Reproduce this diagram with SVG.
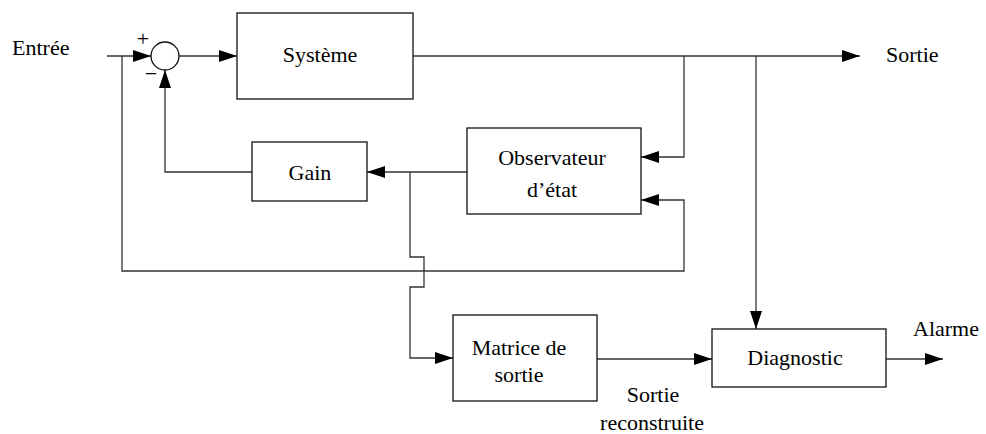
<svg xmlns="http://www.w3.org/2000/svg" width="986" height="434" viewBox="0 0 986 434">
<defs>
<style>
.box{fill:#fff;stroke:#111;stroke-width:1.3}
.ln{fill:none;stroke:#333;stroke-width:1.3}
.t{font-family:"Liberation Serif","Times New Roman",serif;font-size:22px;fill:#000}
.c{text-anchor:middle}
</style>
<marker id="ah" markerUnits="userSpaceOnUse" markerWidth="18" markerHeight="12" refX="18" refY="6" orient="auto" viewBox="0 0 18 12">
<path d="M0,0 L18,6 L0,12 z" fill="#000"/>
</marker>
</defs>
<rect width="986" height="434" fill="#fff"/>
<g id="connectors">
<path class="ln" d="M107,56 H151" marker-end="url(#ah)"/>
<path class="ln" d="M122,56 V271 H684 V200 H641" marker-end="url(#ah)"/>
<path class="ln" d="M179,56 H237" marker-end="url(#ah)"/>
<path class="ln" d="M413,56 H860" marker-end="url(#ah)"/>
<path class="ln" d="M684,56 V157 H641" marker-end="url(#ah)"/>
<path class="ln" d="M756,56 V329" marker-end="url(#ah)"/>
<path class="ln" d="M467,172 H367" marker-end="url(#ah)"/>
<path class="ln" d="M252,172 H165 V70" marker-end="url(#ah)"/>
<path class="ln" d="M410,172 V257 H424 V287 H410 V358 H453" marker-end="url(#ah)"/>
<path class="ln" d="M597,359 H712" marker-end="url(#ah)"/>
<path class="ln" d="M886,359 H943" marker-end="url(#ah)"/>
</g>
<g id="sum">
<circle cx="165" cy="56" r="14" fill="#fff" stroke="#111" stroke-width="1.3"/>
<text class="t c" x="143" y="46">+</text>
<text class="t c" x="151" y="81">−</text>
</g>
<g id="entree"><text class="t" x="12" y="55">Entrée</text></g>
<g id="sortie"><text class="t" x="886" y="62">Sortie</text></g>
<g id="systeme">
<rect class="box" x="237" y="13" width="176" height="86"/>
<text class="t c" x="320" y="62">Système</text>
</g>
<g id="observateur">
<rect class="box" x="467" y="128" width="174" height="86"/>
<text class="t c" x="552" y="165">Observateur</text>
<text class="t c" x="552" y="197">d’état</text>
</g>
<g id="gain">
<rect class="box" x="252" y="142" width="115" height="59"/>
<text class="t c" x="310" y="180">Gain</text>
</g>
<g id="matrice">
<rect class="box" x="453" y="315" width="144" height="86"/>
<text class="t c" x="519" y="355">Matrice de</text>
<text class="t c" x="519" y="382">sortie</text>
</g>
<g id="diagnostic">
<rect class="box" x="712" y="329" width="174" height="58"/>
<text class="t c" x="795" y="365">Diagnostic</text>
</g>
<g id="alarme"><text class="t c" x="946" y="336">Alarme</text></g>
<g id="sortie-reconstruite">
<text class="t c" x="653" y="402">Sortie</text>
<text class="t c" x="652" y="430">reconstruite</text>
</g>
</svg>
